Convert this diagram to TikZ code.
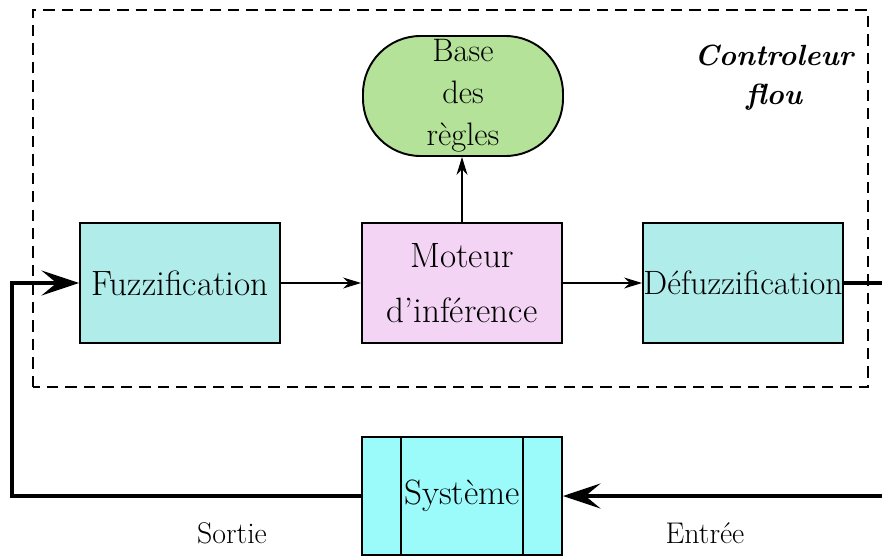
\documentclass[tikz,border=0pt]{standalone}
\usepackage{tikz}
\usetikzlibrary{arrows.meta, positioning, calc}
\definecolor{fuzzcol}{RGB}{175,236,234}
\definecolor{syscol}{RGB}{155,250,250}
\definecolor{motcol}{RGB}{244,212,245}
\definecolor{basecol}{RGB}{180,226,152}

\begin{document}
\begin{tikzpicture}[
  blk/.style={rectangle, draw=black, line width=1.1pt, minimum width=4cm, minimum height=2.4cm, inner sep=0pt, align=center, font=\fontsize{20}{31}\selectfont},
  basebox/.style={rectangle, rounded corners=1.15cm, draw=black, line width=1.1pt, fill=basecol, minimum width=4cm, minimum height=2.4cm, inner sep=0pt, align=center, font=\fontsize{18.5}{24}\selectfont},
  ctrlbox/.style={draw=black, line width=1.1pt, dash pattern=on 6.5pt off 4pt},
  arr/.style={draw=black, line width=0.8pt, -{Stealth[length=0.36cm, width=0.22cm]}},
  bigarr/.style={draw=black, line width=2.2pt, -{Stealth[length=0.75cm, width=0.5cm, inset=0.3cm]}},
  thick line/.style={draw=black, line width=2.2pt},
  lbl/.style={font=\fontsize{17}{20}\selectfont},
]
\useasboundingbox (0,0) rectangle (17.64,11.16);

% controleur flou
\draw[ctrlbox] (0.66,3.42) rectangle (17.36,10.96);
\node[font=\fontsize{16.6}{22}\selectfont\bfseries\itshape, align=center] (ctrl) at (15.48,9.61) {Controleur\\flou};

\node[blk, fill=fuzzcol] (fuzz) at (3.6,5.5) {Fuzzification};
\node[blk, fill=motcol] (mot) at (9.24,5.5) {Moteur\\d'inférence};
\node[blk, fill=fuzzcol, font=\fontsize{19.2}{31}\selectfont] (defuzz) at (14.86,5.5) {Défuzzification};
\node[basebox] (base) at (9.26,9.24) {Base\\des\\règles};

\draw[arr] (fuzz) -- (mot);
\draw[arr] (mot) -- (defuzz);
\draw[arr] (mot) -- (mot |- base.south);

% systeme
\node[blk, fill=syscol, minimum height=2.36cm] (sys) at (9.24,1.24) {Système};
\draw[line width=0.8pt] ($(sys.north west)+(0.8,0)$) -- ($(sys.south west)+(0.8,0)$);
\draw[line width=0.8pt] ($(sys.north east)+(-0.8,0)$) -- ($(sys.south east)+(-0.8,0)$);

\coordinate (outR) at (17.64,5.5);
\coordinate (inR) at (17.64,1.24);
\coordinate (retL) at (0.24,1.24);

\draw[thick line] (defuzz) -- (outR);
\draw[bigarr] (inR) -- (sys);
\draw[bigarr] (sys.west) -- (retL) |- (fuzz.west);

\node[lbl] (sortie) at (4.64,0.5) {Sortie};
\node[lbl] (entree) at (14.1,0.5) {Entrée};
\end{tikzpicture}
\end{document}
